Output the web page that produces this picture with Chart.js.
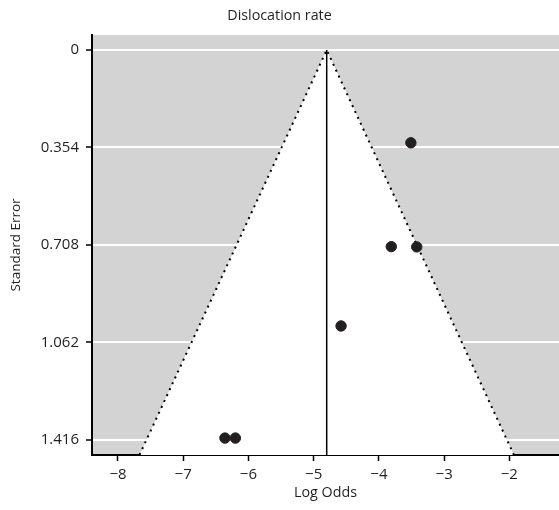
<!DOCTYPE html>
<html>
<head>
<meta charset="utf-8">
<script src="https://cdn.jsdelivr.net/npm/chart.js@4/dist/chart.umd.min.js"></script>
<style>
    html, body { margin: 0; padding: 0; background: #fff; overflow: hidden; }
    #wrap { width: 559px; height: 510px; }
</style>
</head>
<body>
<div id="wrap"><canvas id="chart1"></canvas></div>
<script>
// études (log odds / erreur standard)
const logOdds = [-3.51, -3.81, -3.42, -4.58, -6.36, -6.20];
const stdErr = [0.337, 0.714, 0.715, 1.002, 1.409, 1.409];

// estimation poolée et limites de l'entonnoir
const pooledX = [-4.8, -4.8];
const pooledY = [0, 1.4705];
const funnelX = [-7.67, -4.8, -1.93];
const funnelY = [1.4705, 0, 1.4705];

const xTicks = [-8, -7, -6, -5, -4, -3, -2];
const yTicks = [0, 0.354, 0.708, 1.062, 1.416];
const yTickLabels = ['0', '0.354', '0.708', '1.062', '1.416'];

const textColor = '#231f20';
const fontFamily = "'Open Sans', sans-serif";

const zip = (xs, ys) => xs.map((x, i) => ({ x: x, y: ys[i] }));

// fond gris de la zone du graphique
const greyBackground = {
    id: 'greyBackground',
    beforeDraw(chart) {
        const { ctx, chartArea } = chart;
        ctx.save();
        ctx.fillStyle = '#d3d3d3';
        ctx.fillRect(chartArea.left, chartArea.top, chartArea.right - chartArea.left, chartArea.bottom - chartArea.top);
        ctx.restore();
    }
};

const ctx = document.getElementById('chart1').getContext('2d');

new Chart(ctx, {
    type: 'scatter',
    data: {
        datasets: [
            {
                data: zip(logOdds, stdErr),
                backgroundColor: textColor,
                borderColor: textColor,
                pointRadius: 5.2,
                order: 0
            },
            {
                type: 'line',
                data: zip(pooledX, pooledY),
                borderColor: '#000',
                borderWidth: 1.5,
                pointRadius: 0,
                fill: false,
                order: 1
            },
            {
                type: 'line',
                data: zip(funnelX, funnelY),
                borderColor: '#000',
                borderWidth: 2,
                borderDash: [2, 4.5],
                borderCapStyle: 'butt',
                backgroundColor: '#fff',
                pointRadius: 0,
                tension: 0,
                fill: 'start',
                order: 2
            }
        ]
    },
    options: {
        responsive: true,
        maintainAspectRatio: false,
        animation: false,
        layout: { padding: 0, autoPadding: false },
        plugins: {
            legend: { display: false },
            tooltip: { enabled: false },
            title: {
                display: true,
                text: 'Dislocation rate',
                color: textColor,
                font: { family: fontFamily, size: 14.3, weight: 'normal', lineHeight: 1.2 },
                padding: { top: 7, bottom: 10.8 }
            }
        },
        scales: {
            x: {
                type: 'linear',
                min: -8.398,
                max: -1.239,
                afterBuildTicks: scale => { scale.ticks = xTicks.map(v => ({ value: v })); },
                afterFit: scale => {
                    scale.height = 55;
                    scale.paddingLeft = 0;
                    scale.paddingRight = 0;
                },
                grid: {
                    drawOnChartArea: false,
                    tickColor: '#000',
                    tickLength: 6,
                    tickWidth: 1.5
                },
                border: { color: '#000', width: 2 },
                ticks: {
                    color: textColor,
                    padding: 5,
                    font: { family: fontFamily, size: 15 },
                    callback: v => (v < 0 ? '\u2212' : '') + Math.abs(v)
                },
                title: {
                    display: true,
                    text: 'Log Odds',
                    color: textColor,
                    font: { family: fontFamily, size: 14.3 },
                    padding: { top: 0, bottom: 8 }
                }
            },
            y: {
                type: 'linear',
                reverse: true,
                min: -0.0545,
                max: 1.4705,
                afterBuildTicks: scale => { scale.ticks = yTicks.map(v => ({ value: v })); },
                afterFit: scale => {
                    scale.width = 92;
                    scale.paddingTop = 0;
                    scale.paddingBottom = 0;
                },
                grid: {
                    color: '#fff',
                    lineWidth: 2,
                    tickColor: '#000',
                    tickLength: 6,
                    tickWidth: 1.5
                },
                border: { color: '#000', width: 2 },
                ticks: {
                    color: textColor,
                    padding: 7,
                    font: { family: fontFamily, size: 15 },
                    callback: (v, i) => yTickLabels[i]
                },
                title: {
                    display: true,
                    text: 'Standard Error',
                    color: textColor,
                    font: { family: fontFamily, size: 13.5 },
                    padding: { top: 8, bottom: 0 }
                }
            }
        }
    },
    plugins: [greyBackground]
});
</script>
</body>
</html>
